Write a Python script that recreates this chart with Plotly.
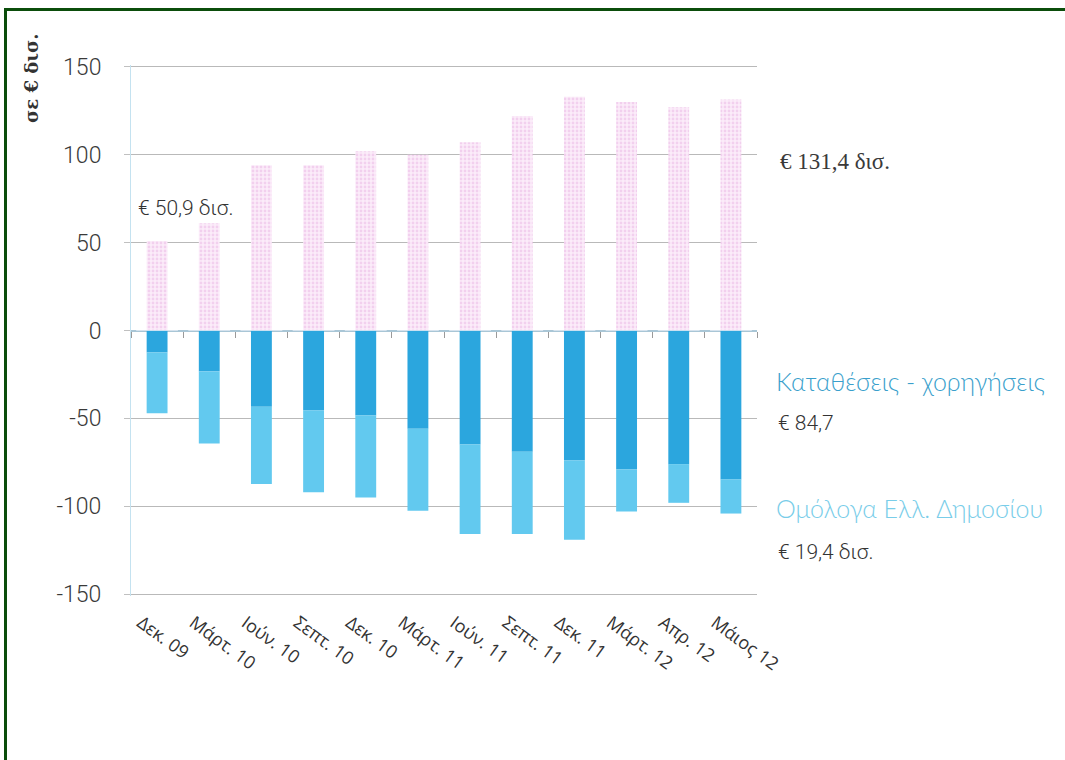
import plotly.graph_objects as go

# ---------------- data ----------------
categories = ["Δεκ. 09", "Μάρτ. 10", "Ιούν. 10", "Σεπτ. 10", "Δεκ. 10", "Μάρτ. 11",
              "Ιούν. 11", "Σεπτ. 11", "Δεκ. 11", "Μάρτ. 12", "Απρ. 12", "Μάιος 12"]
eurosystem = [50.9, 61, 94, 94, 102, 100, 107, 122, 133, 130, 127, 131.4]
deposits_loans = [-12.5, -23.3, -43.3, -45.5, -48.4, -55.9, -64.9, -69, -74, -79, -76, -84.7]
greek_bonds = [-34.5, -41, -44, -46.5, -46.6, -46.6, -50.8, -46.7, -45, -24, -22, -19.4]
y_ticks = [-150, -100, -50, 0, 50, 100, 150]

# ---------------- layout geometry (pixels) ----------------
W, H = 1065, 760
L, R, T, B = 131, 1065 - 757, 65, 760 - 596
PW, PH = W - L - R, H - T - B


def px(x):
    return (x - L) / PW


def py(y):
    return (H - B - y) / PH


fig = go.Figure()

fig.add_trace(go.Bar(
    x=categories, y=eurosystem, name="Ευρωσύστημα",
    marker=dict(color="#f8e1f4", line=dict(width=0),
                pattern=dict(shape=".", fgcolor="#eab4e3", bgcolor="#fbecf9",
                             size=4, solidity=0.4)),
    width=0.4,
))
fig.add_trace(go.Bar(
    x=categories, y=deposits_loans, name="Καταθέσεις - χορηγήσεις",
    marker=dict(color="#2ba6de", line=dict(width=0)), width=0.4,
))
fig.add_trace(go.Bar(
    x=categories, y=greek_bonds, name="Ομόλογα Ελλ. Δημοσίου",
    marker=dict(color="#62c9ef", line=dict(width=0)), width=0.4,
))
# helper trace on the overlay axis that carries the boundary ticks on the zero line
fig.add_trace(go.Bar(
    x=categories, y=[0] * len(categories), xaxis="x2", yaxis="y",
    marker=dict(color="rgba(0,0,0,0)"), hoverinfo="skip", showlegend=False,
))

tick_font = dict(family="Roboto", size=23, color="#3a3a3a", weight=300)

fig.update_layout(
    width=W, height=H,
    margin=dict(l=L, r=R, t=T, b=B, pad=0),
    paper_bgcolor="white", plot_bgcolor="white",
    barmode="relative",
    showlegend=False,
    xaxis=dict(
        type="category", categoryorder="array", categoryarray=categories,
        range=[-0.5, len(categories) - 0.5],
        showgrid=False, zeroline=False, showline=False, ticks="",
        tickangle=36, tickfont=dict(family="Open Sans", size=18, color="#333"),
        ticklabelstandoff=12, ticklabelshift=-16,
    ),
    xaxis2=dict(
        type="category", categoryorder="array", categoryarray=categories,
        overlaying="x", anchor="free", position=0.5, side="bottom",
        range=[-0.5, len(categories) - 0.5],
        showgrid=False, zeroline=False, showline=False, showticklabels=False,
        ticks="outside", tickson="boundaries", ticklen=6, tickcolor="#9a9a9a",
        tickwidth=1,
    ),
    yaxis=dict(
        range=[-151, 151], tickvals=y_ticks, ticktext=[str(v) for v in y_ticks],
        showgrid=True, gridcolor="#b9b9b9", gridwidth=1,
        zeroline=True, zerolinecolor="#a9c6d6", zerolinewidth=1.5,
        showline=True, linecolor="#c4e2f0", linewidth=1,
        ticks="outside", ticklen=6, tickcolor="#c0c0c0",
        tickfont=tick_font, ticklabelstandoff=18,
    ),
)

ann = []
# axis unit label
ann.append(dict(text="<b>σε € δισ.</b>", x=px(31), y=py(78), xref="paper", yref="paper",
                textangle=-90, showarrow=False, xanchor="center", yanchor="middle",
                font=dict(family="DejaVu Serif", size=18, color="#333")))
ann.append(dict(text="€ 50,9 δισ.", x=px(136), y=py(208), xref="paper", yref="paper",
                showarrow=False, xanchor="left", yanchor="middle",
                font=dict(family="Roboto", size=21, color="#333", weight=300)))
ann.append(dict(text="€ 131,4 δισ.", x=px(778), y=py(161), xref="paper", yref="paper",
                showarrow=False, xanchor="left", yanchor="middle",
                font=dict(family="Liberation Serif", size=23, color="#3a3a3a")))
ann.append(dict(text="Καταθέσεις - χορηγήσεις", x=px(774), y=py(381), xref="paper", yref="paper",
                showarrow=False, xanchor="left", yanchor="middle",
                font=dict(family="Lato", size=25, color="#3a9fcc", weight=300)))
ann.append(dict(text="€ 84,7", x=px(776), y=py(423), xref="paper", yref="paper",
                showarrow=False, xanchor="left", yanchor="middle",
                font=dict(family="Roboto", size=21, color="#333", weight=300)))
ann.append(dict(text="Ομόλογα Ελλ. Δημοσίου", x=px(774), y=py(508), xref="paper", yref="paper",
                showarrow=False, xanchor="left", yanchor="middle",
                font=dict(family="Lato", size=25, color="#79cde9", weight=300)))
ann.append(dict(text="€ 19,4 δισ.", x=px(776), y=py(552), xref="paper", yref="paper",
                showarrow=False, xanchor="left", yanchor="middle",
                font=dict(family="Roboto", size=21, color="#333", weight=300)))
fig.update_layout(annotations=ann)

# page frame (green border of the scanned box: left and top edges only)
fig.add_shape(type="line", xref="paper", yref="paper",
              x0=px(5.5), x1=px(5.5), y0=py(770), y1=py(8),
              line=dict(color="#0b4d0b", width=3), layer="above")
fig.add_shape(type="line", xref="paper", yref="paper",
              x0=px(4), x1=px(1075), y0=py(9.5), y1=py(9.5),
              line=dict(color="#0b4d0b", width=3), layer="above")

fig.write_html("out.html")
